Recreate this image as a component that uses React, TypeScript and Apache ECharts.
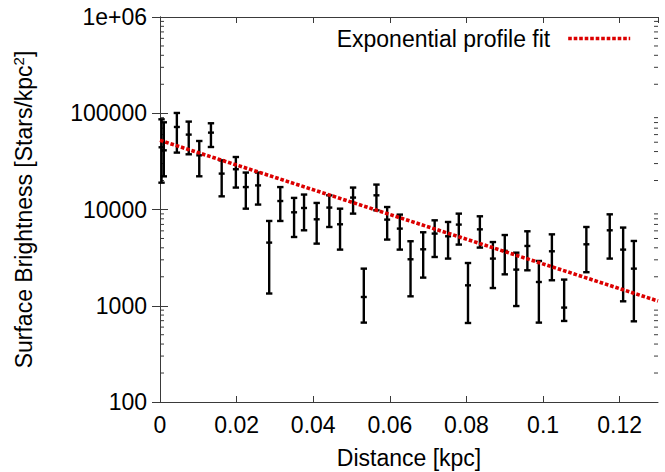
import React, { useEffect, useRef } from "react";
import * as echarts from "echarts";

// Measured profile: distance [kpc], surface brightness and error bar limits [stars/kpc^2]
const distance = [0.0004, 0.001, 0.0044, 0.0075, 0.01025, 0.0133, 0.0161, 0.0198, 0.0224, 0.0256, 0.0285, 0.0314, 0.035, 0.0376, 0.0409, 0.0442, 0.047, 0.0504, 0.0532, 0.0565, 0.0593, 0.0626, 0.0654, 0.0687, 0.0717, 0.0752, 0.078, 0.0804, 0.0835, 0.0869, 0.09, 0.093, 0.0959, 0.0989, 0.1023, 0.1055, 0.1113, 0.1174, 0.1209, 0.1237];
const brightness = [44300, 41200, 72000, 60000, 36560, 62900, 23600, 26200, 17100, 17800, 4530, 12250, 9350, 10370, 7910, 10470, 7020, 13300, 1233, 14040, 7850, 6330, 3040, 3860, 5620, 5270, 6970, 1630, 6220, 3090, 3720, 2375, 4180, 1765, 3680, 957, 4350, 6080, 3830, 2430];
const errLow = [19000, 22100, 39000, 37450, 22130, 44600, 13700, 16900, 10200, 11250, 1340, 7600, 5180, 6080, 4420, 6580, 3830, 9060, 668, 9810, 4870, 3830, 1253, 1960, 3210, 3090, 4320, 662, 4020, 1528, 2120, 993, 2335, 668, 1840, 695, 2230, 3090, 1112, 689];
const errHigh = [86500, 80500, 100700, 81900, 51500, 78700, 32400, 35100, 24200, 24200, 7600, 17100, 13200, 14300, 11700, 14040, 10200, 16900, 2430, 18150, 10610, 8850, 4680, 5800, 7720, 7420, 9060, 2780, 8500, 4590, 5430, 3560, 5940, 2920, 5520, 1870, 6580, 8910, 6490, 4710];

// Exponential profile fit (straight on the log axis): end points
const fitX = [0, 0.13];
const fitY = [52350, 1120];

// Axis ticks
const xTickValues = [0, 0.02, 0.04, 0.06, 0.08, 0.1, 0.12];
const xTickLabels = ["0", "0.02", "0.04", "0.06", "0.08", "0.1", "0.12"];
const yTickValues = [100, 1000, 10000, 100000, 1000000];
const yTickLabels = ["100", "1000", "10000", "100000", "1e+06"];
const yDecades = [100, 1000, 10000, 100000];
const yMinorMultipliers = [2, 3, 4, 5, 6, 7, 8, 9];

const FONT = "'Liberation Sans', Arial, Helvetica, sans-serif";
const FS = 23;
const AXIS_COLOR = "#3a3a3a";
const RED = "#dc0000";

export default function App() {
  const ref = useRef<HTMLDivElement>(null);

  useEffect(() => {
    if (!ref.current) return;
    const chart = echarts.init(ref.current, undefined, { renderer: "svg" });

    const errData = distance.map((d, i) => [d, errLow[i], errHigh[i], brightness[i]]);
    const fitData = fitX.map((x, i) => [x, fitY[i]]);
    const minorData: number[][] = [];
    yDecades.forEach((d) => yMinorMultipliers.forEach((m) => minorData.push([0, d * m])));

    const xLabel = (v: number) => {
      const i = xTickValues.findIndex((t) => Math.abs(t - v) < 1e-9);
      return i >= 0 ? xTickLabels[i] : "";
    };
    const yLabel = (v: number) => {
      const i = yTickValues.findIndex((t) => Math.abs(t - v) / t < 1e-6);
      return i >= 0 ? yTickLabels[i] : "";
    };

    const line = { lineStyle: { color: AXIS_COLOR, width: 1 } };
    const fitLineStyle = { color: RED, width: 3.6, type: [3.6, 1.9], cap: "butt" };

    chart.setOption({
      animation: false,
      grid: { left: 160, right: 7, top: 17, bottom: 70, containLabel: false, outerBoundsMode: "none" },
      legend: {
        data: ["Exponential profile fit"],
        right: 33,
        top: 27,
        padding: 0,
        align: "right",
        itemWidth: 62,
        itemHeight: 14,
        itemStyle: { opacity: 0 },
        lineStyle: { ...fitLineStyle },
        textStyle: { fontFamily: FONT, fontSize: FS, color: "#000", padding: [0, 13, 0, 0] },
        selectedMode: false,
      },
      xAxis: [
        {
          type: "value",
          min: 0,
          max: 0.13,
          interval: 0.02,
          name: "Distance [kpc]",
          nameLocation: "middle",
          nameGap: 44,
          nameTextStyle: { fontFamily: FONT, fontSize: FS, color: "#000", lineHeight: 24 },
          axisLine: { show: true, ...line },
          axisTick: { show: true, inside: true, length: 6, ...line },
          axisLabel: { formatter: xLabel, fontFamily: FONT, fontSize: FS, color: "#000", margin: 11, showMaxLabel: false },
          splitLine: { show: false },
        },
        {
          type: "value",
          position: "top",
          min: 0,
          max: 0.13,
          interval: 0.02,
          axisLine: { show: true, ...line },
          axisTick: { show: true, inside: true, length: 6, ...line },
          axisLabel: { show: false },
          splitLine: { show: false },
        },
      ],
      yAxis: [
        {
          type: "log",
          logBase: 10,
          min: 100,
          max: 1000000,
          name: "Surface Brightness [Stars/kpc{sup|2}]",
          nameLocation: "middle",
          nameRotate: 90,
          nameGap: 124,
          nameTextStyle: {
            fontFamily: FONT,
            fontSize: FS,
            color: "#000",
            lineHeight: 25,
            rich: { sup: { fontFamily: FONT, fontSize: 15, color: "#000", verticalAlign: "top", lineHeight: 25 } },
          },
          axisLine: { show: true, ...line },
          axisTick: { show: true, inside: true, length: 8, ...line },
          axisLabel: { formatter: yLabel, fontFamily: FONT, fontSize: FS, color: "#000", margin: 13 },
          splitLine: { show: false },
          minorTick: { show: false },
        },
        {
          type: "log",
          logBase: 10,
          min: 100,
          max: 1000000,
          position: "right",
          axisLine: { show: true, ...line },
          axisTick: { show: true, inside: true, length: 8, ...line },
          axisLabel: { show: false },
          splitLine: { show: false },
        },
      ],
      series: [
        {
          type: "custom",
          name: "minor ticks",
          silent: true,
          xAxisIndex: 0,
          yAxisIndex: 0,
          data: minorData,
          encode: { x: 0, y: 1 },
          renderItem: (params: any, api: any) => {
            const p = api.coord([0, api.value(1)]);
            const cs = params.coordSys;
            const style = { stroke: AXIS_COLOR, lineWidth: 1 };
            return {
              type: "group",
              children: [
                { type: "line", shape: { x1: cs.x, y1: p[1], x2: cs.x + 4, y2: p[1] }, style },
                { type: "line", shape: { x1: cs.x + cs.width - 4, y1: p[1], x2: cs.x + cs.width, y2: p[1] }, style },
              ],
            };
          },
          z: 1,
        },
        {
          type: "custom",
          name: "Surface brightness",
          xAxisIndex: 0,
          yAxisIndex: 0,
          data: errData,
          encode: { x: 0, y: [1, 2, 3] },
          renderItem: (params: any, api: any) => {
            const x = api.value(0);
            const pLo = api.coord([x, api.value(1)]);
            const pHi = api.coord([x, api.value(2)]);
            const pC = api.coord([x, api.value(3)]);
            const cap = 3.2;
            const mk = 3;
            const style = { stroke: "#000", lineWidth: 2.4 };
            return {
              type: "group",
              children: [
                { type: "line", shape: { x1: pLo[0], y1: pLo[1], x2: pHi[0], y2: pHi[1] }, style },
                { type: "line", shape: { x1: pHi[0] - cap, y1: pHi[1], x2: pHi[0] + cap, y2: pHi[1] }, style },
                { type: "line", shape: { x1: pLo[0] - cap, y1: pLo[1], x2: pLo[0] + cap, y2: pLo[1] }, style },
                { type: "line", shape: { x1: pC[0] - mk, y1: pC[1], x2: pC[0] + mk, y2: pC[1] }, style },
              ],
            };
          },
          z: 2,
        },
        {
          type: "line",
          name: "Exponential profile fit",
          xAxisIndex: 0,
          yAxisIndex: 0,
          data: fitData,
          showSymbol: false,
          symbol: "none",
          lineStyle: { ...fitLineStyle },
          itemStyle: { color: RED },
          z: 3,
        },
      ],
    });

    return () => chart.dispose();
  }, []);

  return (
    <div
      ref={ref}
      style={{ position: "absolute", left: 0, top: 0, width: 665, height: 472, background: "#fff" }}
    />
  );
}
